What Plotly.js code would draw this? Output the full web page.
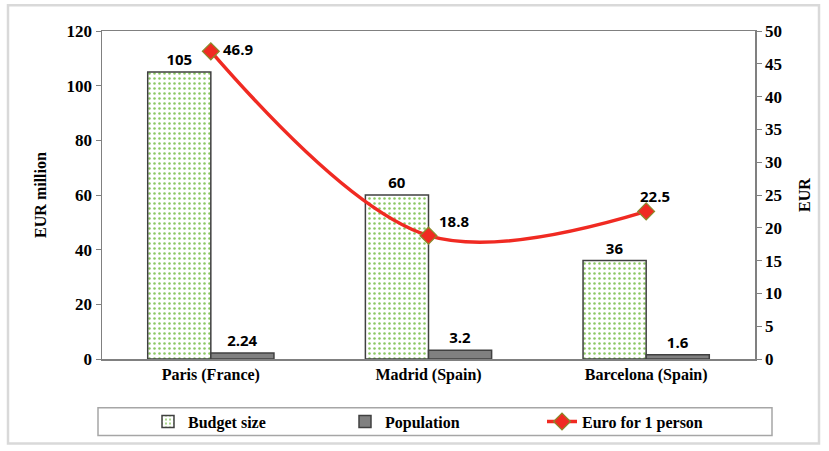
<!DOCTYPE html>
<html>
<head>
<meta charset="utf-8">
<script src="https://cdn.plot.ly/plotly-3.0.1.min.js"></script>
<style>html,body{margin:0;padding:0;background:#fff;}#chart{width:829px;height:451px;}</style>
</head>
<body>
<div id="chart"></div>
<script>
var categories = ["Paris (France)", "Madrid (Spain)", "Barcelona (Spain)"];
var budgetSize = [105, 60, 36];
var population = [2.24, 3.2, 1.6];
var euroPerPerson = [46.9, 18.8, 22.5];
var budgetLabels = ["105", "60", "36"];
var populationLabels = ["2.24", "3.2", "1.6"];
var euroLabels = ["46.9", "18.8", "22.5"];
var leftTicks = [0, 20, 40, 60, 80, 100, 120];
var rightTicks = [0, 5, 10, 15, 20, 25, 30, 35, 40, 45, 50];

var labelFont = {family: "Open Sans", size: 15, color: "#000", weight: "bold"};
var serifBold = {family: "Liberation Serif", size: 16, color: "#000", weight: "bold"};
var tickFont = {family: "Liberation Serif", size: 17, color: "#000", weight: "bold"};

var traces = [
  {
    type: "bar", name: "Budget size", x: categories, y: budgetSize,
    text: budgetLabels, textposition: "outside", textfont: labelFont, cliponaxis: false,
    marker: {color: "#ffffff", line: {color: "#404040", width: 1.5},
      pattern: {shape: ".", fgcolor: "#8cc963", bgcolor: "#ffffff", size: 5, solidity: 0.2}},
    hoverinfo: "skip"
  },
  {
    type: "bar", name: "Population", x: categories, y: population,
    text: populationLabels, textposition: "outside", textfont: labelFont, cliponaxis: false,
    marker: {color: "#808080", line: {color: "#404040", width: 1.5}},
    hoverinfo: "skip"
  },
  {
    type: "scatter", mode: "lines+markers", name: "Euro for 1 person",
    x: categories, y: euroPerPerson, yaxis: "y2", cliponaxis: false,
    line: {color: "#f02a22", width: 3.5, shape: "spline", smoothing: 1},
    marker: {symbol: "diamond", size: 13, color: "#f02a22", line: {color: "#8a8a2a", width: 1.2}},
    hoverinfo: "skip"
  }
];

var labelShifts = [[10, 2, "left"], [8, 15, "left"], [9, 15, "center"]];
var annotations = euroLabels.map(function (t, i) {
  return {x: categories[i], y: euroPerPerson[i], xref: "x", yref: "y2", text: t, showarrow: false,
    xanchor: labelShifts[i][2], yanchor: "middle", xshift: labelShifts[i][0], yshift: labelShifts[i][1],
    font: labelFont};
});

var ml = 102, mr = 74, mt = 31, mb = 90, W = 829, H = 451;
var pw = W - ml - mr, ph = H - mt - mb;
function px(x) { return (x - ml) / pw; }
function py(y) { return (H - mb - y) / ph; }

var layout = {
  width: W, height: H,
  margin: {l: ml, r: mr, t: mt, b: mb, pad: 0},
  paper_bgcolor: "#ffffff", plot_bgcolor: "#ffffff",
  font: {family: "Liberation Serif"},
  barmode: "group", bargap: 0.42, bargroupgap: 0,
  showlegend: true,
  legend: {orientation: "h", x: px(148), xanchor: "left", y: py(424), yanchor: "middle",
    font: serifBold, entrywidth: 152, entrywidthmode: "pixels", bgcolor: "rgba(0,0,0,0)"},
  annotations: annotations,
  xaxis: {
    type: "category", showline: true, linecolor: "#808080", linewidth: 1.5, mirror: true,
    ticks: "", showgrid: false, tickfont: {family: "Liberation Serif", size: 16, color: "#000", weight: "bold"}, zeroline: false
  },
  yaxis: {
    range: [0, 120], tickvals: leftTicks, ticktext: leftTicks.map(String),
    showline: true, linecolor: "#808080", linewidth: 1.5,
    ticks: "outside", ticklen: 5, tickcolor: "#808080", showgrid: false, zeroline: false,
    tickfont: tickFont,
    title: {text: "EUR million", font: {family: "Liberation Serif", size: 16, color: "#000", weight: "bold"}, standoff: 16}
  },
  yaxis2: {
    overlaying: "y", side: "right", range: [0, 50], tickvals: rightTicks, ticktext: rightTicks.map(String),
    showline: true, linecolor: "#808080", linewidth: 1.5,
    ticks: "outside", ticklen: 5, tickcolor: "#808080", showgrid: false, zeroline: false,
    tickfont: tickFont,
    title: {text: "EUR", font: {family: "Liberation Serif", size: 16, color: "#000", weight: "bold"}, standoff: 18}
  },
  shapes: [
    {type: "rect", xref: "paper", yref: "paper", x0: px(8), x1: px(819), y0: py(446), y1: py(5),
      line: {color: "#d9d9d9", width: 2.5}, fillcolor: "rgba(0,0,0,0)", layer: "below"},
    {type: "rect", xref: "paper", yref: "paper", x0: px(98), x1: px(772), y0: py(438), y1: py(410),
      line: {color: "#a6a6a6", width: 1.5}, fillcolor: "rgba(0,0,0,0)", layer: "below"}
  ]
};

Plotly.newPlot("chart", traces, layout, {displayModeBar: false, staticPlot: true});
</script>
</body>
</html>
